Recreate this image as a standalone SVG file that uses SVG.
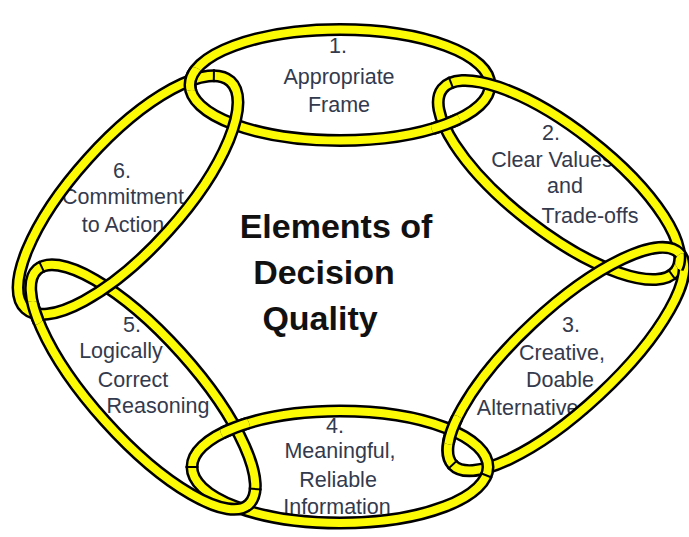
<svg xmlns="http://www.w3.org/2000/svg" width="689" height="537" viewBox="0 0 689 537">
  <style>
    .band { fill: none; stroke: #000; stroke-width: 13; }
    .core { fill: none; stroke: #fcfb05; stroke-width: 8; }
    .cut { stroke: #000; stroke-width: 2; }
    .lbl { font-family: "Liberation Sans", Arial, sans-serif; font-size: 21.5px; fill: #333a4d; text-anchor: middle; }
    .title { font-family: "Liberation Sans", Arial, sans-serif; font-size: 34px; font-weight: bold; fill: #111; text-anchor: middle; }
  </style>
  <defs>
    <!-- one ring = black outline band with a yellow core -->
    <g id="r1" transform="translate(340 85)"><ellipse class="band" rx="150" ry="55.5"/><ellipse class="core" rx="150" ry="55.5"/></g>
    <g id="r2" transform="translate(559 180) rotate(38)"><ellipse class="band" rx="148" ry="51"/><ellipse class="core" rx="148" ry="51"/></g>
    <g id="r3" transform="translate(566 359) rotate(-43)"><ellipse class="band" rx="155" ry="49"/><ellipse class="core" rx="155" ry="49"/></g>
    <g id="r4" transform="translate(340 467)"><ellipse class="band" rx="148" ry="56"/><ellipse class="core" rx="148" ry="56"/></g>
    <g id="r5" transform="translate(143 387) rotate(48)"><ellipse class="band" rx="158" ry="51"/><ellipse class="core" rx="158" ry="51"/></g>
    <g id="r6" transform="translate(128 195) rotate(-48)"><ellipse class="band" rx="153" ry="54"/><ellipse class="core" rx="153" ry="54"/></g>
    <!-- windows where the earlier ring of a linked pair passes over the later one -->
    <clipPath id="x12"><circle cx="446" cy="125" r="15"/></clipPath>
    <clipPath id="x23"><circle cx="684" cy="262" r="9"/></clipPath>
    <clipPath id="x34"><circle cx="452" cy="430" r="15"/></clipPath>
    <clipPath id="x45"><circle cx="235" cy="428" r="15"/></clipPath>
    <clipPath id="x56"><circle cx="33" cy="313" r="12"/></clipPath>
    <clipPath id="x61"><circle cx="192" cy="79" r="12"/></clipPath>
  </defs>
  <rect width="689" height="537" fill="#fff"/>

  <g id="title">
    <text class="title" x="336" y="238">Elements of</text>
    <text class="title" x="324" y="284">Decision</text>
    <text class="title" x="320" y="330">Quality</text>
  </g>

  <g id="ring-1">
    <text class="lbl" x="338" y="53">1.</text>
    <text class="lbl" x="339" y="84">Appropriate</text>
    <text class="lbl" x="339" y="112">Frame</text>
    <use href="#r1"/>
  </g>
  <g id="ring-2">
    <text class="lbl" x="551" y="140">2.</text>
    <text class="lbl" x="552" y="167">Clear Values</text>
    <text class="lbl" x="565" y="193">and</text>
    <text class="lbl" x="590" y="223">Trade-offs</text>
    <use href="#r2"/>
  </g>
  <g id="ring-3">
    <text class="lbl" x="571" y="332">3.</text>
    <text class="lbl" x="562" y="360">Creative,</text>
    <text class="lbl" x="560" y="387">Doable</text>
    <text class="lbl" x="533" y="415">Alternatives</text>
    <use href="#r3"/>
  </g>
  <g id="ring-4">
    <text class="lbl" x="335" y="433">4.</text>
    <text class="lbl" x="340" y="458">Meaningful,</text>
    <text class="lbl" x="338" y="487">Reliable</text>
    <text class="lbl" x="337" y="514">Information</text>
    <use href="#r4"/>
  </g>
  <g id="ring-5">
    <text class="lbl" x="132" y="332">5.</text>
    <text class="lbl" x="121" y="358">Logically</text>
    <text class="lbl" x="133" y="387">Correct</text>
    <text class="lbl" x="158" y="413">Reasoning</text>
    <use href="#r5"/>
  </g>
  <g id="ring-6">
    <text class="lbl" x="122" y="178">6.</text>
    <text class="lbl" x="123" y="204">Commitment</text>
    <text class="lbl" x="123" y="232">to Action</text>
    <use href="#r6"/>
  </g>

  <!-- over-passes of the earlier ring at each link -->
  <g id="ring-overpasses">
    <use href="#r1" clip-path="url(#x12)"/>
    <use href="#r2" clip-path="url(#x23)"/>
    <use href="#r3" clip-path="url(#x34)"/>
    <use href="#r4" clip-path="url(#x45)"/>
    <use href="#r5" clip-path="url(#x56)"/>
    <use href="#r1" clip-path="url(#x61)"/>
  </g>

  <!-- short seam marks across the bands, in each ring's own frame -->
  <g id="ring-seams">
    <line class="cut" transform="translate(559 180) rotate(38)" x1="-139.4" y1="-6.8" x2="-150.6" y2="-13.4"/>
    <line class="cut" transform="translate(559 180) rotate(38)" x1="141.1" y1="3.3" x2="153.5" y2="6.9"/>
    <line class="cut" transform="translate(128 195) rotate(-48)" x1="141.2" y1="-11.7" x2="151" y2="-20.3"/>
    <line class="cut" transform="translate(566 359) rotate(-43)" x1="-148.5" y1="0" x2="-161.5" y2="0"/>
    <line class="cut" transform="translate(340 467)" x1="140.3" y1="6" x2="152.3" y2="10.8"/>
    <line class="cut" transform="translate(340 467)" x1="-141.5" y1="0" x2="-154.5" y2="0"/>
    <line class="cut" transform="translate(143 387) rotate(48)" x1="146.2" y1="-10.6" x2="155.6" y2="-19.6"/>
    <line class="cut" transform="translate(143 387) rotate(48)" x1="-151" y1="-3.2" x2="-163.4" y2="-7"/>
  </g>
</svg>
